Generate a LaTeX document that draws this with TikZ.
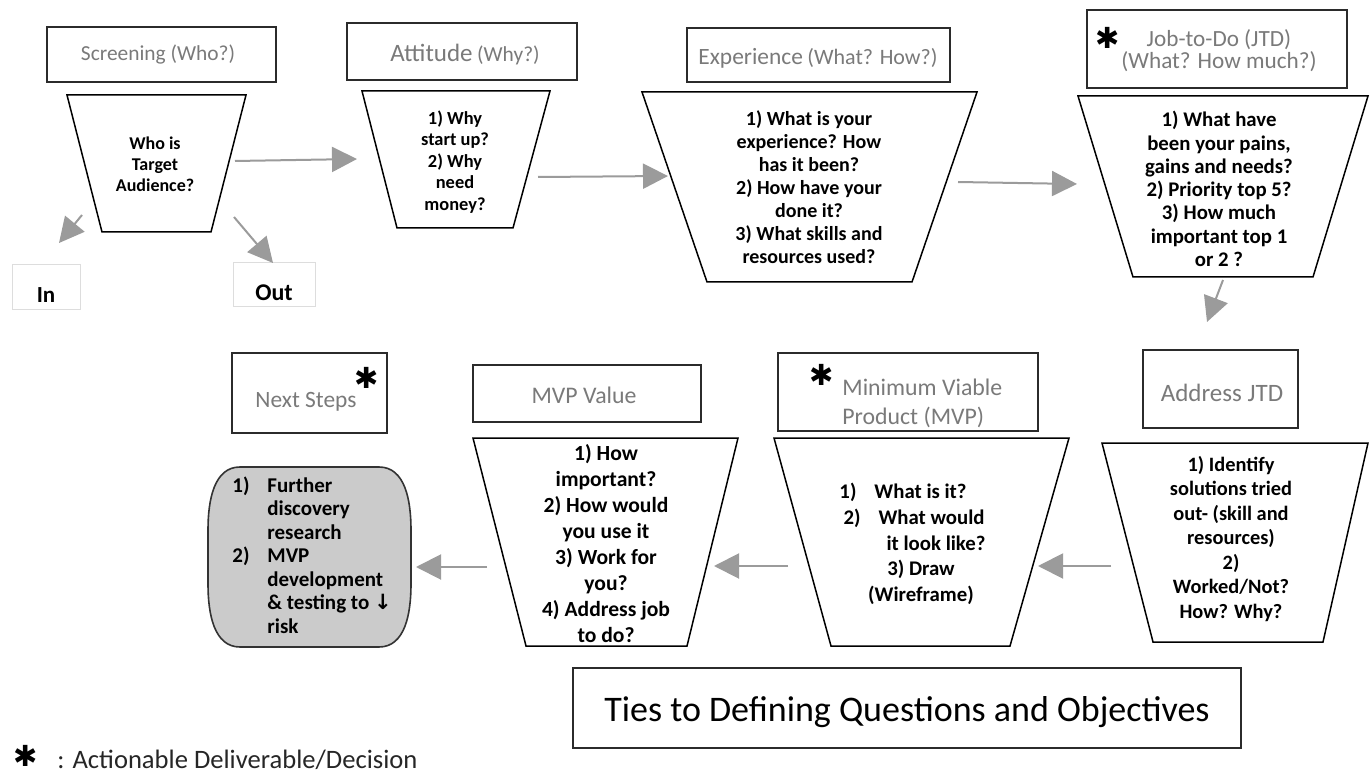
\documentclass[tikz,border=0pt]{standalone}
\usepackage{fontspec}
\setmainfont{Carlito}
\newfontfamily\arrowfont{DejaVu Sans}
\newfontfamily\starfont{DejaVu Sans}
\usetikzlibrary{arrows.meta}
\definecolor{arrowgray}{HTML}{9B9B9B}
\definecolor{headgray}{HTML}{7A7A7A}
\definecolor{boxgray}{HTML}{2B2B2B}
\definecolor{lightline}{HTML}{DDDDDD}
\definecolor{capsulefill}{HTML}{CBCBCB}
\begin{document}
\begin{tikzpicture}[x=0.5pt,y=-0.5pt,
  hdr/.style={draw=boxgray, line width=1.2pt, fill=white, inner sep=0pt},
  hdrtxt/.style={text=headgray, align=center, inner sep=0pt},
  trap/.style={draw=black, line width=0.75pt, fill=white},
  qtxt/.style={align=center, inner sep=0pt},
  flow/.style={draw=arrowgray, line width=1pt, -{Triangle[length=12.5pt,width=12.5pt]}},
  star/.style={font=\starfont\fontsize{14.5}{14.5}\selectfont, inner sep=0pt},
  iobox/.style={draw=lightline, line width=0.5pt, inner sep=0pt},
]
\useasboundingbox (0,0) rectangle (1371,775);

% ---------- header boxes ----------
\node[hdr, minimum width=114.5pt, minimum height=27.5pt] (hScr) at (161.5,54.5) {};
\node[hdrtxt, font=\fontsize{10.7}{12}\selectfont] (tScr) at (158,55) {Screening (Who?)};

\node[hdr, minimum width=115pt, minimum height=28.5pt] (hAtt) at (462,51.5) {};
\node[hdrtxt] (tAtt) at (465,55) {{\fontsize{12.5}{13}\selectfont Attitude} {\fontsize{10.7}{12}\selectfont(Why?)}};

\node[hdr, minimum width=131.5pt, minimum height=27pt] (hExp) at (818.5,55) {};
\node[hdrtxt] (tExp) at (818,58) {{\fontsize{11.7}{13}\selectfont Experience} {\fontsize{11}{12}\selectfont(What? How?)}};

\node[hdr, minimum width=130pt, minimum height=39pt] (hJtd) at (1217,49) {};
\node[hdrtxt, font=\fontsize{11.6}{11}\selectfont] (tJtd) at (1219,51) {Job-to-Do (JTD)\\(What? How much?)};
\node[star] (sJtd) at (1108,38) {✱};

\node[hdr, minimum width=77.5pt, minimum height=39pt] (hAdr) at (1220.5,389) {};
\node[hdrtxt, font=\fontsize{12.5}{13}\selectfont] (tAdr) at (1222,393) {Address JTD};

\node[hdr, minimum width=130pt, minimum height=39pt] (hMvp) at (908,392) {};
\node[hdrtxt, align=left, anchor=west, font=\fontsize{11.9}{14.5}\selectfont] (tMvp) at (842,403) {Minimum Viable\\Product (MVP)};
\node[star] (sMvp) at (822,375) {✱};

\node[hdr, minimum width=114pt, minimum height=28.5pt] (hVal) at (587,393.5) {};
\node[hdrtxt, font=\fontsize{11.9}{13}\selectfont] (tVal) at (584,395) {MVP Value};

\node[hdr, minimum width=77.5pt, minimum height=40pt] (hNxt) at (309.5,393) {};
\node[hdrtxt, font=\fontsize{11.7}{13}\selectfont] (tNxt) at (306,402) {Next Steps};
\node[star] (sNxt) at (367,378) {✱};

% ---------- funnels (top row) ----------
\draw[trap] (67,95) -- (246,95) -- (211,232) -- (102,232) -- cycle;
\node[qtxt, font=\bfseries\fontsize{9}{10.6}\selectfont] (qScr) at (155,164) {Who is\\Target\\Audience?};

\draw[trap] (362,91) -- (550,91) -- (513,228) -- (397,228) -- cycle;
\node[qtxt, font=\bfseries\fontsize{9.2}{10.7}\selectfont] (qAtt) at (455,162) {1) Why\\start up?\\2) Why\\need\\money?};

\draw[trap] (642,92) -- (977,92) -- (912,282) -- (707,282) -- cycle;
\node[qtxt, font=\bfseries\fontsize{10}{11.5}\selectfont] (qExp) at (809,187) {1) What is your\\experience? How\\has it been?\\2) How have your\\done it?\\3) What skills and\\resources used?};

\draw[trap] (1078,96) -- (1368,96) -- (1313,277) -- (1133,277) -- cycle;
\node[qtxt, font=\bfseries\fontsize{10.4}{11.65}\selectfont] (qJtd) at (1219,189) {1) What have\\been your pains,\\gains and needs?\\2) Priority top 5?\\3) How much\\important top 1\\or 2 ?};

% ---------- funnels (bottom row) ----------
\draw[trap] (1102,443) -- (1368,443) -- (1323,642) -- (1153,642) -- cycle;
\node[qtxt, font=\bfseries\fontsize{10.2}{12.25}\selectfont] (qAdr) at (1231,539) {1) Identify\\solutions tried\\out- (skill and\\resources)\\2)\\Worked/Not?\\How? Why?};

\draw[trap] (774,438) -- (1069,438) -- (1010,646) -- (831,646) -- cycle;
\node[qtxt, font=\bfseries\fontsize{10.4}{12.8}\selectfont] (qMvp) at (921,544) {\hspace*{-18pt}1)\hspace{9pt}What is it?\\\hspace*{-7pt}2)\hspace{9pt}What would\\\hspace*{15pt}it look like?\\3) Draw\\(Wireframe)};

\draw[trap] (473,438) -- (738,438) -- (687,646) -- (526,646) -- cycle;
\node[qtxt, font=\bfseries\fontsize{10.8}{13}\selectfont] (qVal) at (606,544) {1) How\\important?\\2) How would\\you use it\\3) Work for\\you?\\4) Address job\\to do?};

% ---------- next-steps capsule ----------
\path[draw=black!80, line width=0.8pt, fill=capsulefill]
  (240,467) -- (379,467) .. controls (405,467) and (411,500) .. (411,530)
  -- (411,584) .. controls (411,614) and (405,647) .. (379,647)
  -- (240,647) .. controls (214,647) and (208,614) .. (208,584)
  -- (208,530) .. controls (208,500) and (214,467) .. (240,467) -- cycle;
\node[inner sep=0pt, anchor=west, font=\bfseries\fontsize{10.5}{11.75}\selectfont] (qNxt) at (232,558)
  {\begin{tabular}{@{}p{17.5pt}@{}l@{}}
   1) & Further\\ & discovery\\ & research\\
   2) & MVP\\ & development\\ & \& testing to {\arrowfont ↓}\\ & risk
   \end{tabular}};

% ---------- In / Out ----------
\node[iobox, minimum width=34pt, minimum height=22.5pt] (inB) at (46,287.5) {};
\node[inner sep=0pt, font=\bfseries\fontsize{11.5}{12}\selectfont] (inT) at (46,295) {In};
\node[iobox, minimum width=41pt, minimum height=22pt] (outB) at (274,285) {};
\node[inner sep=0pt, font=\bfseries\fontsize{12}{12}\selectfont] (outT) at (274,293) {Out};

% ---------- connectors ----------
\coordinate (inS) at (82,215);   \coordinate (inE) at (59,243);
\coordinate (outS) at (234,217); \coordinate (outE) at (273,263);
\coordinate (a1S) at (235,161);  \coordinate (a1E) at (357,159);
\coordinate (a2S) at (538,177);  \coordinate (a2E) at (668,176);
\coordinate (a3S) at (958,182);  \coordinate (a3E) at (1077,184);
\coordinate (a4S) at (1223,280); \coordinate (a4E) at (1207,322);
\coordinate (a5S) at (1111,566); \coordinate (a5E) at (1038,566);
\coordinate (a6S) at (788,566);  \coordinate (a6E) at (714,566);
\coordinate (a7S) at (487,567);  \coordinate (a7E) at (416,567);
\draw[flow] (inS) -- (inE);
\draw[flow] (outS) -- (outE);
\draw[flow] (a1S) -- (a1E);
\draw[flow] (a2S) -- (a2E);
\draw[flow] (a3S) -- (a3E);
\draw[flow] (a4S) -- (a4E);
\draw[flow] (a5S) -- (a5E);
\draw[flow] (a6S) -- (a6E);
\draw[flow] (a7S) -- (a7E);

% ---------- ties box & legend ----------
\node[hdr, minimum width=334pt, minimum height=40pt] (ties) at (907,708) {};
\node[inner sep=0pt, font=\fontsize{18}{20}\selectfont] (tiesT) at (907,712) {Ties to Defining Questions and Objectives};

\node[star] (sLeg) at (26,756) {✱};
\node[inner sep=0pt, anchor=west, text=black!85, font=\fontsize{13.3}{15}\selectfont] (leg) at (57,760) {: Actionable Deliverable/Decision};
\end{tikzpicture}
\end{document}
